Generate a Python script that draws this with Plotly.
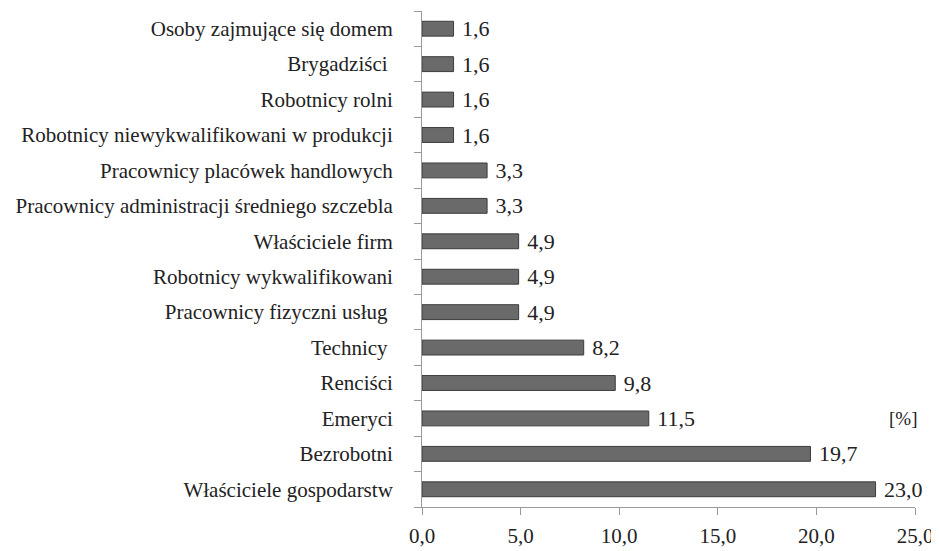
import plotly.graph_objects as go

categories = [
    "Właściciele gospodarstw",
    "Bezrobotni",
    "Emeryci",
    "Renciści",
    "Technicy ",
    "Pracownicy fizyczni usług ",
    "Robotnicy wykwalifikowani",
    "Właściciele firm",
    "Pracownicy administracji średniego szczebla",
    "Pracownicy placówek handlowych",
    "Robotnicy niewykwalifikowani w produkcji",
    "Robotnicy rolni",
    "Brygadziści ",
    "Osoby zajmujące się domem",
]
values = [23.0, 19.7, 11.5, 9.8, 8.2, 4.9, 4.9, 4.9, 3.3, 3.3, 1.6, 1.6, 1.6, 1.6]
x_ticks = [0, 5, 10, 15, 20, 25]

FONT = "Liberation Serif, Times New Roman, serif"
TXT = "#222222"

fig = go.Figure(
    go.Bar(
        y=categories,
        x=values,
        orientation="h",
        marker=dict(color="#6a6a6a", line=dict(color="#3c3c3c", width=1)),
        width=0.42,
        texttemplate=" %{x:.1f}",
        textposition="outside",
        constraintext="none",
        textfont=dict(family=FONT, size=22, color=TXT),
        cliponaxis=False,
    )
)

# page body has an 8px margin, so the figure is drawn 8px smaller and offset
fig.update_layout(
    width=931,
    height=543,
    margin=dict(l=414, r=24, t=3, b=44),
    paper_bgcolor="white",
    plot_bgcolor="white",
    separators=", ",
    showlegend=False,
    font=dict(family=FONT, color=TXT),
    xaxis=dict(
        range=[0, 25],
        tickvals=x_ticks,
        tickformat=".1f",
        showgrid=False,
        zeroline=False,
        showline=True,
        linecolor="#999999",
        linewidth=1,
        ticks="outside",
        ticklen=7,
        tickcolor="#999999",
        tickfont=dict(family=FONT, size=21, color=TXT),
        ticklabelstandoff=3,
        automargin=False,
    ),
    yaxis=dict(
        type="category",
        showgrid=False,
        showline=True,
        linecolor="#999999",
        linewidth=1,
        ticks="outside",
        tickson="boundaries",
        ticklen=7,
        tickcolor="#999999",
        tickfont=dict(family=FONT, size=21, color=TXT),
        ticklabelstandoff=24,
        automargin=False,
    ),
    annotations=[
        dict(
            text="[%]",
            x=24.4,
            y=2,
            xref="x",
            yref="y",
            showarrow=False,
            font=dict(family=FONT, size=19, color=TXT),
        )
    ],
)

fig.write_html("out.html")
